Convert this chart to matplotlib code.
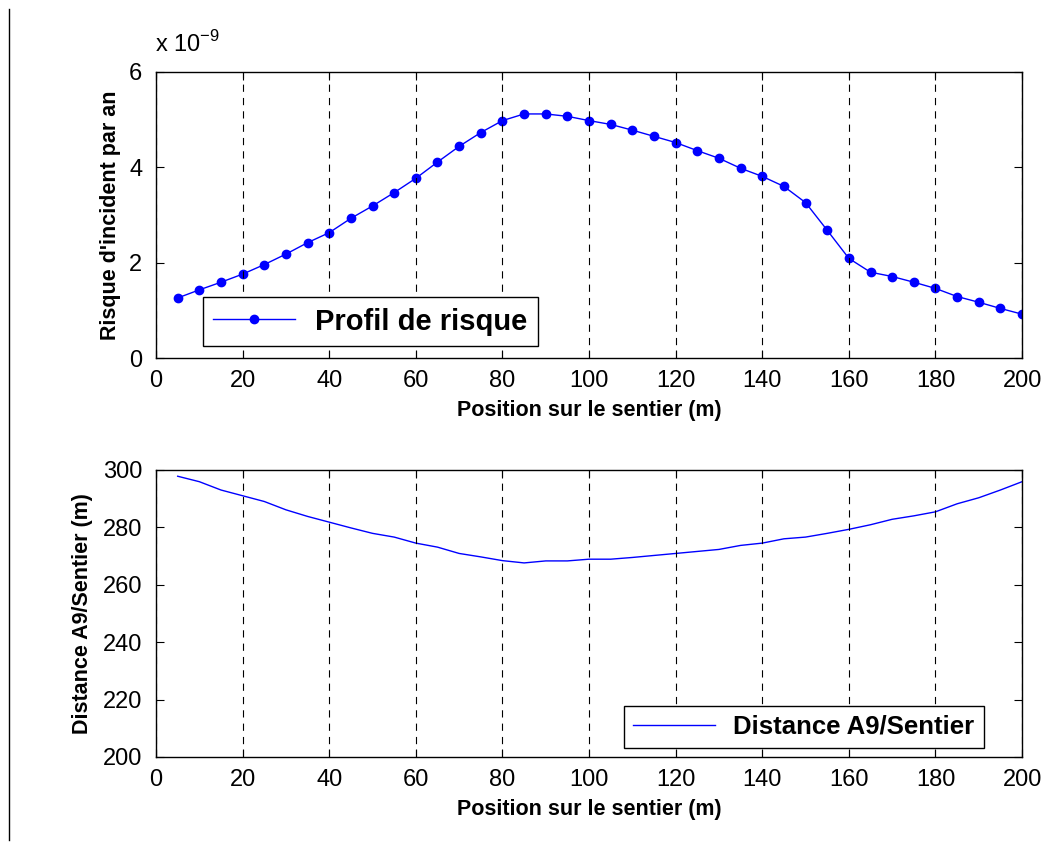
import matplotlib
matplotlib.use("Agg")
import matplotlib.pyplot as plt
from matplotlib.lines import Line2D

plt.rcParams['font.family'] = ['Liberation Sans', 'DejaVu Sans']

# ---- data ----
position = [5, 10, 15, 20, 25, 30, 35, 40, 45, 50, 55, 60, 65, 70, 75, 80, 85, 90, 95, 100,
            105, 110, 115, 120, 125, 130, 135, 140, 145, 150, 155, 160, 165, 170, 175, 180,
            185, 190, 195, 200]
risque_e9 = [1.26, 1.43, 1.59, 1.76, 1.96, 2.18, 2.42, 2.63, 2.93, 3.19, 3.47, 3.77, 4.11, 4.44,
             4.73, 4.98, 5.12, 5.12, 5.07, 4.98, 4.90, 4.78, 4.65, 4.52, 4.35, 4.19, 3.98, 3.81,
             3.60, 3.26, 2.68, 2.09, 1.80, 1.71, 1.59, 1.46, 1.29, 1.17, 1.04, 0.92]
distance = [297.8, 295.9, 293.0, 291.0, 289.0, 286.1, 283.8, 281.8, 279.8, 277.9, 276.6, 274.5,
            273.1, 270.9, 269.7, 268.4, 267.6, 268.3, 268.3, 268.9, 268.9, 269.5, 270.2, 270.9,
            271.6, 272.3, 273.7, 274.5, 276.0, 276.6, 277.9, 279.3, 280.9, 282.8, 284.0, 285.4,
            288.2, 290.3, 293.0, 295.9]
risque = [v * 1e-9 for v in risque_e9]

xticks = [0, 20, 40, 60, 80, 100, 120, 140, 160, 180, 200]
yticks_top = [0, 2e-9, 4e-9, 6e-9]
yticks_top_labels = ['0', '2', '4', '6']
yticks_bot = [200, 220, 240, 260, 280, 300]

TICK_FS = 17
LABEL_FS = 15.5

fig = plt.figure(figsize=(10.5, 8.42), dpi=100)
ax1 = fig.add_axes([0.1486, 0.5748, 0.8248, 0.3397])
ax2 = fig.add_axes([0.1486, 0.1010, 0.8248, 0.3409])

blue = '#0000ff'
ax1.plot(position, risque, '-', color=blue, lw=1.0, marker='o', markersize=6,
         label='Profil de risque')
ax2.plot(position, distance, '-', color=blue, lw=1.0, label='Distance A9/Sentier')

for ax in (ax1, ax2):
    ax.set_xlim(0, 200)
    ax.set_xticks(xticks)
    ax.tick_params(direction='in', top=True, right=True, labelsize=TICK_FS, length=6,
                   width=0.8)
    ax.tick_params(axis='x', pad=8.5)
    ax.tick_params(axis='y', pad=10)
    ax.xaxis.grid(True, color='black', linestyle=(0, (6.5, 5.5)), linewidth=0.8)
    ax.set_axisbelow(False)
    for s in ax.spines.values():
        s.set_linewidth(1.0)
    ax.set_xlabel('Position sur le sentier (m)', fontsize=LABEL_FS, fontweight='bold',
                  labelpad=6)

ax1.set_ylim(0, 6e-9)
ax1.set_yticks(yticks_top)
ax1.set_yticklabels(yticks_top_labels)
ax1.set_ylabel("Risque d'incident par an", fontsize=LABEL_FS, fontweight='bold', labelpad=6)
fig.text(0.1476, 0.932, r'x 10$^{\mathregular{-9}}$', fontsize=TICK_FS, ha='left', va='bottom')

ax2.set_ylim(200, 300)
ax2.set_yticks(yticks_bot)
ax2.set_ylabel('Distance A9/Sentier (m)', fontsize=LABEL_FS, fontweight='bold', labelpad=7)

leg1 = ax1.legend(loc='lower left', bbox_to_anchor=(0.054, 0.042),
                  prop={'weight': 'bold', 'size': 21}, fancybox=False, framealpha=1,
                  edgecolor='black', handlelength=2.8, borderpad=0.36, handletextpad=0.7,
                  borderaxespad=0)
leg1.get_frame().set_linewidth(1.0)
leg2 = ax2.legend(loc='lower left', bbox_to_anchor=(0.540, 0.031),
                  prop={'weight': 'bold', 'size': 18.5}, fancybox=False, framealpha=1,
                  edgecolor='black', handlelength=3.2, borderpad=0.36, handletextpad=0.7,
                  borderaxespad=0)
leg2.get_frame().set_linewidth(1.0)

# page border line at left
fig.add_artist(Line2D([9 / 1050, 9 / 1050], [1 - 9 / 842, 1 - 840 / 842],
                      transform=fig.transFigure, color='black', lw=1.0))

fig.savefig('out.png', dpi=100, facecolor='white')
